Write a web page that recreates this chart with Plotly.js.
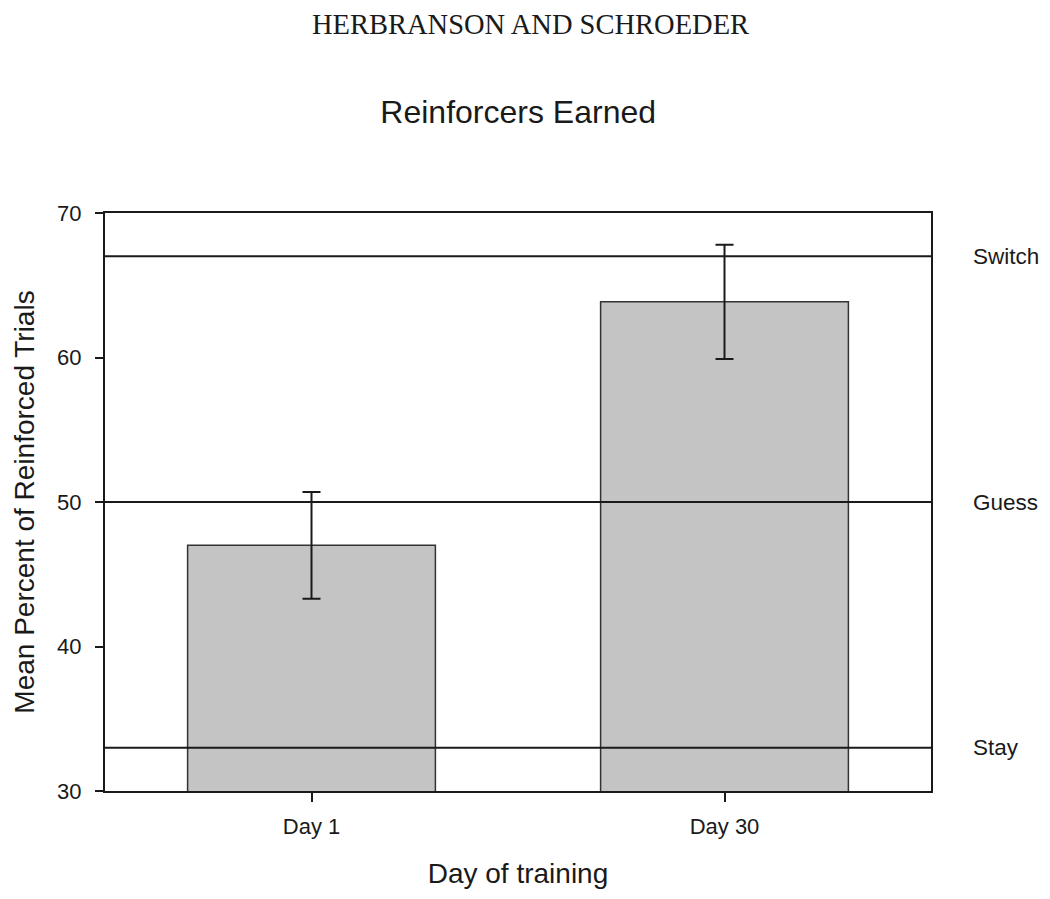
<!DOCTYPE html>
<html>
<head>
<meta charset="utf-8">
<script src="https://cdn.plot.ly/plotly-3.0.1.min.js"></script>
<style>html,body{margin:0;padding:0;background:#fff;}#chart{width:1050px;height:899px;}</style>
</head>
<body>
<div id="chart"></div>
<script>
// Data
const days = ["Day 1", "Day 30"];
const meanPercent = [47.0, 63.85];
const errorSE = [3.7, 3.95];
const refLabels = ["Switch", "Guess", "Stay"];
const refValues = [67, 50, 33];
const yTicks = [30, 40, 50, 60, 70];

const FONT = "Liberation Sans, Arial, sans-serif";

const barTrace = {
  type: "bar",
  x: days,
  y: meanPercent,
  width: 0.6,
  marker: { color: "#c4c4c4", line: { color: "#333333", width: 1.5 } },
  error_y: { type: "data", array: errorSE, visible: true, color: "#1a1a1a", thickness: 2, width: 9 },
  hoverinfo: "skip",
  showlegend: false
};

const shapes = refValues.map(v => ({
  type: "line", xref: "paper", yref: "y", x0: 0, x1: 1, y0: v, y1: v,
  line: { color: "#1a1a1a", width: 2 }, layer: "above"
}));

const annotations = refLabels.map((t, i) => ({
  text: t, xref: "paper", yref: "y", x: 1, y: refValues[i],
  xanchor: "left", yanchor: "middle", xshift: 40, showarrow: false,
  font: { family: FONT, size: 22.5, color: "#1a1a1a" }
}));

annotations.push({
  text: "HERBRANSON AND SCHROEDER", xref: "paper", yref: "paper",
  x: 0.5, y: 1, yshift: 189, xshift: 12, xanchor: "center", yanchor: "middle",
  showarrow: false, font: { family: "Liberation Serif, Times New Roman, serif", size: 28.5, color: "#1a1a1a" }
});

const layout = {
  width: 1050, height: 899,
  margin: { l: 105, r: 119, t: 213, b: 108, pad: 0 },
  paper_bgcolor: "#ffffff", plot_bgcolor: "#ffffff",
  font: { family: FONT, color: "#1a1a1a" },
  title: {
    text: "Reinforcers Earned", x: 0.4935, xanchor: "center",
    y: 1 - 112 / 899, yanchor: "middle", yref: "container",
    font: { family: FONT, size: 32, color: "#1a1a1a" }
  },
  xaxis: {
    type: "category", range: [-0.5, 1.5],
    showline: true, linecolor: "#1a1a1a", linewidth: 2, mirror: true,
    ticks: "outside", ticklen: 9, tickwidth: 2, tickcolor: "#1a1a1a",
    tickfont: { family: FONT, size: 22, color: "#1a1a1a" },
    ticklabelstandoff: 6,
    showgrid: false, zeroline: false,
    title: { text: "Day of training", standoff: 25, font: { family: FONT, size: 28, color: "#1a1a1a" } }
  },
  yaxis: {
    range: [30, 70], tickvals: yTicks,
    showline: true, linecolor: "#1a1a1a", linewidth: 2, mirror: true,
    ticks: "outside", ticklen: 8, tickwidth: 2, tickcolor: "#1a1a1a",
    tickfont: { family: FONT, size: 22, color: "#1a1a1a" },
    ticklabelstandoff: 9,
    showgrid: false, zeroline: false,
    title: { text: "Mean Percent of Reinforced Trials", standoff: 14, font: { family: FONT, size: 28, color: "#1a1a1a" } }
  },
  shapes: shapes,
  annotations: annotations,
  bargap: 0.4
};

Plotly.newPlot("chart", [barTrace], layout, { displayModeBar: false, staticPlot: true });
</script>
</body>
</html>
